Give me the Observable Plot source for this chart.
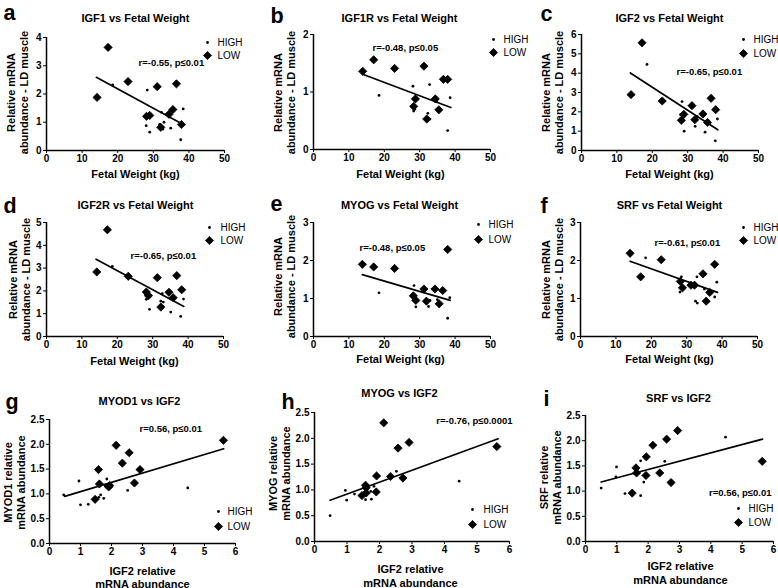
<!DOCTYPE html>
<html><head><meta charset="utf-8">
<script src="https://cdn.jsdelivr.net/npm/d3@7"></script>
<script src="https://cdn.jsdelivr.net/npm/@observablehq/plot@0.6"></script>
<style>
body{margin:0;background:#fff;}
#fig{position:relative;width:778px;height:588px;overflow:hidden;background:#fff;}
.cell{position:absolute;}
.cell svg{display:block;overflow:visible;max-width:none;}
.cell svg line{stroke-width:1.5px;}
</style></head><body><div id="fig"></div>
<script>
// ---------- DATA ----------
const letters = ["a","b","c","d","e","f","g","h","i"];
const titles = ["IGF1 vs Fetal Weight","IGF1R vs Fetal Weight","IGF2 vs Fetal Weight",
  "IGF2R vs Fetal Weight","MYOG vs Fetal Weight","SRF vs Fetal Weight",
  "MYOD1 vs IGF2","MYOG vs IGF2","SRF vs IGF2"];
const stats = ["r=-0.55, p≤0.01","r=-0.48, p≤0.05","r=-0.65, p≤0.01",
  "r=-0.65, p≤0.01","r=-0.48, p≤0.05","r=-0.61, p≤0.01",
  "r=0.56, p≤0.01","r=-0.76, p≤0.0001","r=0.56, p≤0.01"];
const xLabels = ["Fetal Weight (kg)","Fetal Weight (kg)","Fetal Weight (kg)",
  "Fetal Weight (kg)","Fetal Weight (kg)","Fetal Weight (kg)",
  "IGF2 relative\nmRNA abundance","IGF2 relative\nmRNA abundance","IGF2 relative\nmRNA abundance"];
const yLabels = ["Relative mRNA\nabundance - LD muscle","Relative mRNA\nabundance - LD muscle","Relative mRNA\nabundance - LD muscle",
  "Relative mRNA\nabundance - LD muscle","Relative mRNA\nabundance - LD muscle","Relative mRNA\nabundance - LD muscle",
  "MYOD1 relative\nmRNA abundance","MYOG relative\nmRNA abundance","SRF relative\nmRNA abundance"];
const groups = ["HIGH","LOW"];

const weightTicks = [0,10,20,30,40,50];
const igf2Ticks = [0,1,2,3,4,5,6];
const yTicksA = [0,1,2,3,4];
const yTicksB = [0,1,2];
const yTicksC = [0,1,2,3,4,5,6];
const yTicksD = [0,1,2,3,4,5];
const yTicksE = [0,1,2,3];
const yTicksF = [0,1,2,3];
const yTicksGHI = [0,0.5,1,1.5,2,2.5];

// [x, y] pairs
const highA = [[18.6,2.32],[28.3,2.14],[28.0,0.88],[29.0,0.65],[32.3,1.35],[33.0,1.0],[32.7,0.76],[34.9,0.79],[37.7,0.38],[38.4,1.47],[31.8,0.92],[28.6,1.18]];
const lowA  = [[14.2,1.88],[17.3,3.65],[22.9,2.44],[28.1,1.21],[29.0,1.24],[31.1,2.26],[32.1,0.82],[34.4,1.28],[35.5,1.45],[36.5,2.36],[37.9,0.92]];
const fitA  = [[14.0,2.59],[38.4,0.92]];

const highB = [[18.5,0.94],[28.1,1.10],[32.8,1.13],[28.3,0.67],[28.6,0.70],[32.3,0.63],[32.9,0.53],[34.8,0.83],[38.6,0.90],[37.9,0.33]];
const lowB  = [[13.9,1.36],[17.0,1.56],[22.9,1.41],[28.3,0.75],[28.8,0.88],[31.2,1.45],[32.0,0.53],[34.4,0.88],[35.4,0.69],[36.7,1.22],[37.9,1.22]];
const fitB  = [[13.9,1.31],[38.8,0.73]];

const highC = [[18.5,4.45],[28.4,2.53],[28.0,1.85],[29.0,1.00],[32.1,1.25],[32.7,1.75],[34.9,0.95],[37.8,0.50],[38.4,1.63],[32.3,1.60]];
const lowC  = [[14.0,2.89],[17.1,5.57],[22.8,2.56],[28.2,1.56],[28.9,1.87],[31.2,2.32],[32.0,1.59],[34.3,1.89],[35.6,1.45],[36.6,2.70],[37.9,2.11]];
const fitC  = [[13.8,4.01],[38.5,1.07]];

const highD = [[18.6,3.08],[28.2,1.63],[29.1,1.19],[32.7,1.88],[33.0,1.51],[35.1,1.07],[37.9,0.88],[38.7,1.64],[32.3,1.55],[28.0,1.85]];
const lowD  = [[14.2,2.83],[17.2,4.68],[23.1,2.64],[28.2,1.95],[28.8,1.79],[31.3,2.58],[32.3,1.29],[34.6,1.94],[35.8,1.70],[36.8,2.67],[38.2,2.05]];
const fitD  = [[14.0,3.39],[38.8,1.32]];

const highE = [[18.5,1.15],[28.4,1.34],[28.9,0.78],[32.5,0.79],[32.9,0.95],[35.0,0.97],[37.9,0.48],[38.5,1.02],[32.2,0.90],[28.1,1.05]];
const lowE  = [[13.8,1.90],[17.0,1.83],[22.9,1.79],[28.2,1.07],[28.9,0.95],[31.2,1.25],[31.9,0.93],[34.3,1.25],[35.5,0.86],[36.5,1.21],[37.9,2.29]];
const fitE  = [[13.8,1.63],[38.6,0.95]];

const highF = [[18.4,2.07],[28.5,1.57],[28.1,1.17],[32.9,1.57],[32.5,0.93],[33.0,0.88],[35.0,1.25],[37.9,1.04],[38.5,1.43],[31.5,1.35]];
const lowF  = [[14.0,2.19],[17.0,1.57],[22.8,2.02],[28.2,1.45],[28.8,1.28],[31.2,1.35],[32.2,1.35],[34.6,1.65],[35.5,0.93],[36.5,1.16],[37.9,1.90]];
const fitF  = [[14.0,1.98],[38.7,1.16]];

const highG = [[0.46,0.98],[0.95,1.26],[1.0,0.78],[1.25,0.79],[1.59,0.93],[1.65,0.98],[1.75,0.91],[1.85,1.30],[2.52,1.07],[4.46,1.12],[1.80,1.16]];
const lowG  = [[1.58,1.49],[1.61,1.20],[1.47,0.89],[1.91,1.14],[1.94,1.17],[2.15,1.98],[2.35,1.62],[2.57,1.83],[2.74,1.22],[2.92,1.49],[5.61,2.08]];
const fitG  = [[0.49,0.95],[5.62,1.91]];

const highH = [[0.48,0.50],[0.95,0.99],[0.99,0.80],[1.23,0.92],[1.57,0.81],[1.75,0.82],[1.73,0.97],[1.83,1.07],[2.52,1.36],[4.45,1.17]];
const lowH  = [[2.13,2.30],[2.57,1.81],[2.91,1.92],[1.91,1.27],[2.34,1.26],[2.72,1.23],[1.57,1.09],[1.59,1.04],[1.46,0.89],[1.59,0.94],[1.90,0.96],[5.61,1.84]];
const fitH  = [[0.48,0.80],[5.65,1.99]];

const highI = [[0.50,1.06],[0.99,1.48],[0.97,1.28],[1.26,0.95],[1.76,1.60],[1.76,0.91],[1.86,1.18],[2.53,1.59],[4.47,2.07]];
const lowI  = [[1.49,0.96],[1.61,1.46],[1.63,1.36],[1.94,1.68],[1.93,1.31],[2.15,1.91],[2.37,1.36],[2.59,2.03],[2.73,1.17],[2.94,2.20],[5.64,1.59]];
const fitI  = [[0.50,1.18],[5.65,2.03]];

// ---------- PANEL SETUP ----------
const panelData = [
  {high:highA, low:lowA, fit:fitA, xDomain:[0,50], xTicks:weightTicks, yDomain:[0,4], yTicks:yTicksA, fmt:"d"},
  {high:highB, low:lowB, fit:fitB, xDomain:[0,50], xTicks:weightTicks, yDomain:[0,2], yTicks:yTicksB, fmt:"d"},
  {high:highC, low:lowC, fit:fitC, xDomain:[0,50], xTicks:weightTicks, yDomain:[0,6], yTicks:yTicksC, fmt:"d"},
  {high:highD, low:lowD, fit:fitD, xDomain:[0,50], xTicks:weightTicks, yDomain:[0,5], yTicks:yTicksD, fmt:"d"},
  {high:highE, low:lowE, fit:fitE, xDomain:[0,50], xTicks:weightTicks, yDomain:[0,3], yTicks:yTicksE, fmt:"d"},
  {high:highF, low:lowF, fit:fitF, xDomain:[0,50], xTicks:weightTicks, yDomain:[0,3], yTicks:yTicksF, fmt:"d"},
  {high:highG, low:lowG, fit:fitG, xDomain:[0,6], xTicks:igf2Ticks, yDomain:[0,2.5], yTicks:yTicksGHI, fmt:".1f"},
  {high:highH, low:lowH, fit:fitH, xDomain:[0,6], xTicks:igf2Ticks, yDomain:[0,2.5], yTicks:yTicksGHI, fmt:".1f"},
  {high:highI, low:lowI, fit:fitI, xDomain:[0,6], xTicks:igf2Ticks, yDomain:[0,2.5], yTicks:yTicksGHI, fmt:".1f"}
];

// layout: cell box, margins [T,R,B,L], and text anchors in cell pixels
const layouts = [
  {left:0,  top:0,   w:258, h:190, m:[37,34,40,46], letter:[3,19.5], title:[135,21], xlab:[135,177,1.1], ylab:[16.5,92], r:[138,62,"start"], leg:[207,217,42,55]},
  {left:258,top:0,   w:258, h:190, m:[34,26,41,55], letter:[12,22],  title:[141,21], xlab:[142,177,1.1], ylab:[25.5,92], r:[114,47,"start"], leg:[235,245,39,52]},
  {left:516,top:0,   w:262, h:190, m:[34,20,40,65], letter:[24,20.5], title:[153,21], xlab:[153,177,1.1], ylab:[35.5,92], r:[160,71,"start"], leg:[227,237,39,53]},
  {left:0,  top:190, w:258, h:190, m:[32,35,44,46], letter:[3,22],  title:[135,18], xlab:[134,174,1.1], ylab:[18.5,89], r:[130,65,"start"], leg:[209,220,37,50]},
  {left:258,top:190, w:258, h:190, m:[32,26,44,55], letter:[12,20.5], title:[141,18], xlab:[142,172,1.1], ylab:[25.5,86], r:[101,57,"start"], leg:[220,230,34,49]},
  {left:516,top:190, w:262, h:190, m:[32,21,44,64], letter:[24,22], title:[153,18], xlab:[153,172,1.1], ylab:[35.5,89], r:[138,52,"start"], leg:[227,237,37,50]},
  {left:0,  top:380, w:258, h:208, m:[39,23,45,49], letter:[5,28],  title:[139,24], xlab:[142,207,1.12], ylab:[13.5,102], r:[139,48,"start"], leg:[218,227,131,146]},
  {left:258,top:380, w:258, h:208, m:[32,7,47,56],  letter:[23,28], title:[141,16], xlab:[152,206,1.2], ylab:[20.5,93], r:[254,40,"end"], leg:[214,225,129,144]},
  {left:516,top:380, w:262, h:208, m:[35,5,47,69],  letter:[27,25], title:[162,21], xlab:[164,203,1.2], ylab:[34,97], r:[255,112,"end"], leg:[222,232,128,142]}
];

const FONT = "'Liberation Sans', Arial, Helvetica, sans-serif";
const fig = document.getElementById("fig");
const px = d => d[0], py = d => d[1];

panelData.forEach((p, i) => {
  const L = layouts[i];
  const [T, R, B, Lm] = L.m;
  const at = (cx, cy) => ({frameAnchor: "top-left", dx: cx - Lm, dy: cy - T});
  const plot = Plot.plot({
    width: L.w, height: L.h,
    marginTop: T, marginRight: R, marginBottom: B, marginLeft: Lm,
    style: {fontFamily: FONT, fontSize: "10px", fontWeight: "bold", color: "black", background: "transparent", overflow: "visible"},
    x: {domain: p.xDomain, ticks: p.xTicks, tickSize: 3, tickPadding: 1, label: null, tickFormat: d3.format("d")},
    y: {domain: p.yDomain, ticks: p.yTicks, tickSize: 3, tickPadding: 2, label: null, tickFormat: d3.format(p.fmt)},
    marks: [
      Plot.ruleY([0], {stroke: "black", strokeWidth: 1.5}),
      Plot.ruleX([0], {stroke: "black", strokeWidth: 1.5}),
      Plot.line(p.fit, {x: px, y: py, stroke: "black", strokeWidth: 1.7}),
      Plot.dot(p.high, {x: px, y: py, r: 1.4, fill: "black", stroke: "none"}),
      Plot.dot(p.low, {x: px, y: py, r: 3.7, symbol: "diamond2", fill: "black", stroke: "black", strokeWidth: 0.8}),
      Plot.text([letters[i]], {...at(L.letter[0], L.letter[1]), text: d => d, fontSize: 21.5, fontWeight: "bold", textAnchor: "start", lineAnchor: "bottom"}),
      Plot.text([titles[i]], {...at(L.title[0], L.title[1]), text: d => d, fontSize: 11, fontWeight: "bold", textAnchor: "middle", lineAnchor: "bottom"}),
      Plot.text([xLabels[i]], {...at(L.xlab[0], L.xlab[1]), text: d => d, fontSize: 11, fontWeight: "bold", textAnchor: "middle", lineAnchor: "bottom", lineHeight: L.xlab[2]}),
      Plot.text([yLabels[i]], {...at(L.ylab[0], L.ylab[1]), text: d => d, fontSize: 11, fontWeight: "bold", rotate: -90, textAnchor: "middle", lineAnchor: "middle", lineHeight: 1.18}),
      Plot.text([stats[i]], {...at(L.r[0], L.r[1]), text: d => d, fontSize: 9.5, fontWeight: "bold", textAnchor: L.r[2], lineAnchor: "middle"}),
      Plot.dot([groups[0]], {...at(L.leg[0], L.leg[2]), r: 1.4, fill: "black", stroke: "none"}),
      Plot.dot([groups[1]], {...at(L.leg[0], L.leg[3]), r: 3.7, symbol: "diamond2", fill: "black", stroke: "black", strokeWidth: 0.8}),
      Plot.text([groups[0]], {...at(L.leg[1], L.leg[2]), text: d => d, fontSize: 10, fontWeight: "normal", textAnchor: "start", lineAnchor: "middle"}),
      Plot.text([groups[1]], {...at(L.leg[1], L.leg[3]), text: d => d, fontSize: 10, fontWeight: "normal", textAnchor: "start", lineAnchor: "middle"})
    ]
  });
  const cell = document.createElement("div");
  cell.className = "cell";
  cell.style.left = L.left + "px";
  cell.style.top = L.top + "px";
  cell.style.width = L.w + "px";
  cell.style.height = L.h + "px";
  cell.appendChild(plot);
  fig.appendChild(cell);
});
</script>
</body></html>
